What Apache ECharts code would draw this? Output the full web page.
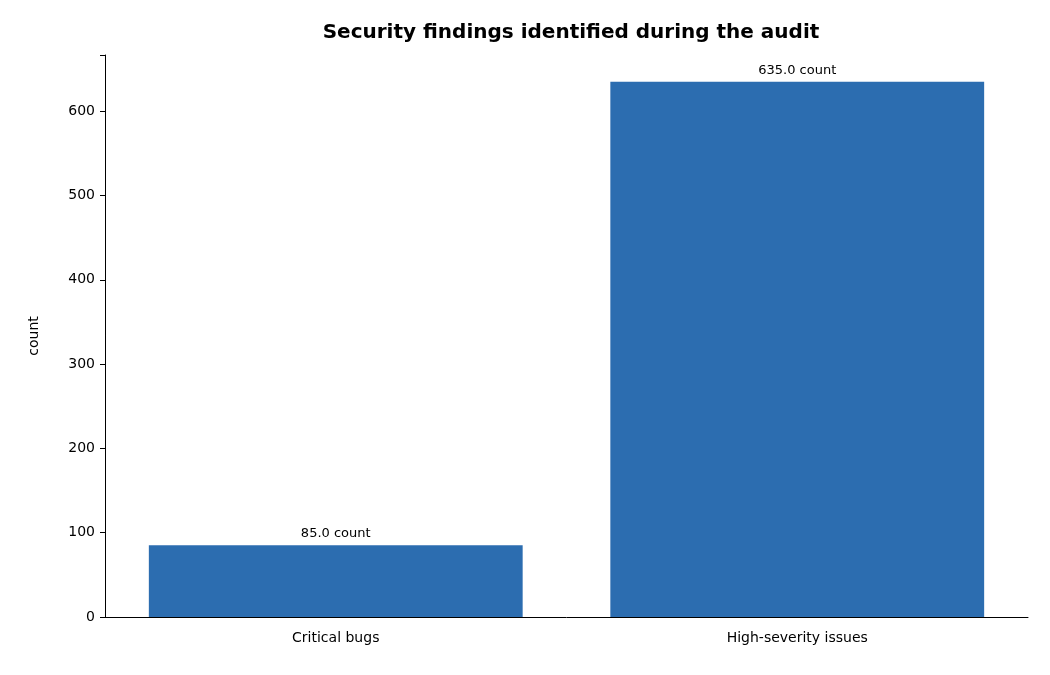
<!DOCTYPE html>
<html><head><meta charset="utf-8">
<script src="https://cdn.jsdelivr.net/npm/echarts@6/dist/echarts.min.js"></script>
<style>html,body{margin:0;padding:0;background:#fff}#c{width:1050px;height:675px}</style>
</head><body><div id="c"></div>
<script>
const categories = ["Critical bugs", "High-severity issues"];
const values = [85.0, 635.0];
const yTicks = [0, 100, 200, 300, 400, 500, 600];
const chart = echarts.init(document.getElementById('c'));
const font = "DejaVu Sans";
chart.setOption({
  animation: false,
  title: {text: "Security findings identified during the audit", left: 566, top: 18, textAlign: 'center',
    textStyle: {fontFamily: font, fontWeight: 'bold', fontSize: 20, color: '#000'}},
  grid: {left: 105, right: 22, top: 55, bottom: 58},
  xAxis: {type: 'category', data: categories,
    axisLine: {lineStyle: {color: '#000'}}, axisTick: {alignWithLabel: true, length: 5, lineStyle: {color: '#000'}},
    axisLabel: {fontFamily: font, fontSize: 14, color: '#000', margin: 14}},
  yAxis: {type: 'value', min: 0, max: 666.75, interval: 100,
    name: 'count', nameLocation: 'middle', nameGap: 64,
    nameTextStyle: {fontFamily: font, fontSize: 14, color: '#000'},
    axisLine: {show: true, lineStyle: {color: '#000'}}, axisTick: {show: true, length: 5, lineStyle: {color: '#000'}},
    splitLine: {show: false},
    axisLabel: {fontFamily: font, fontSize: 14, color: '#000', margin: 10,
      formatter: v => yTicks.includes(v) ? String(v) : ''}},
  series: [{type: 'bar', data: values, barCategoryGap: '19%',
    itemStyle: {color: '#2c6db0'},
    label: {show: true, position: 'top', distance: 5, fontFamily: font, fontSize: 13, color: '#000',
      formatter: p => p.value.toFixed(1) + ' count'}}]
});
</script></body></html>
